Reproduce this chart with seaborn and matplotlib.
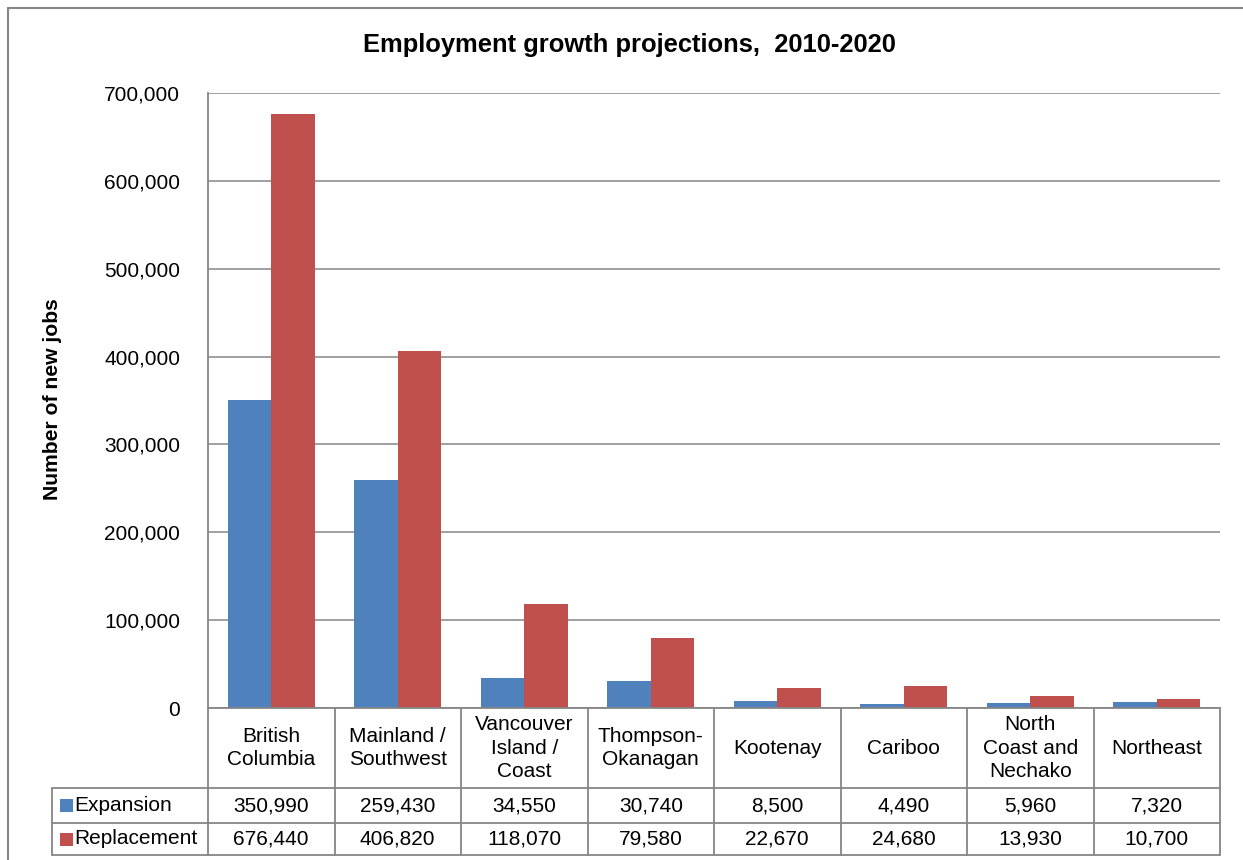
import matplotlib
matplotlib.use("Agg")
import numpy as np
import pandas as pd
import seaborn as sns
import matplotlib.pyplot as plt
import matplotlib.transforms as mtransforms
from matplotlib.lines import Line2D
from matplotlib.patches import Rectangle
from matplotlib.ticker import FuncFormatter

# ---- data -------------------------------------------------------------
regions = [
    "British\nColumbia",
    "Mainland /\nSouthwest",
    "Vancouver\nIsland /\nCoast",
    "Thompson-\nOkanagan",
    "Kootenay",
    "Cariboo",
    "North\nCoast and\nNechako",
    "Northeast",
]
expansion = [350990, 259430, 34550, 30740, 8500, 4490, 5960, 7320]
replacement = [676440, 406820, 118070, 79580, 22670, 24680, 13930, 10700]
series_names = ["Expansion", "Replacement"]
series_colors = ["#4F81BD", "#C0504D"]
y_ticks = [0, 100000, 200000, 300000, 400000, 500000, 600000, 700000]

title = "Employment growth projections,  2010-2020"
y_label = "Number of new jobs"

# ---- figure setup -----------------------------------------------------
W, H = 1243, 860
sns.set_theme(style="white")
plt.rcParams["font.family"] = ["Liberation Sans", "DejaVu Sans"]
GRID = "#868686"
FS = 15

fig = plt.figure(figsize=(W / 100, H / 100), dpi=100)


def fx(px):
    return px / W


def fy(py):
    return 1 - py / H


left, right, top, bottom = 208, 1220, 93, 708
ax = fig.add_axes([fx(left), fy(bottom), fx(right - left), fy(top) - fy(bottom)])

df = pd.DataFrame({
    "region": regions * 2,
    "series": [series_names[0]] * len(regions) + [series_names[1]] * len(regions),
    "jobs": expansion + replacement,
})

sns.barplot(
    data=df, x="region", y="jobs", hue="series",
    order=regions, hue_order=series_names, palette=series_colors,
    width=0.684, saturation=1, errorbar=None, legend=False,
    linewidth=0, ax=ax,
)

ax.set_xlim(-0.5, len(regions) - 0.5)
ax.set_ylim(y_ticks[0], y_ticks[-1])
ax.set_yticks(y_ticks)
ax.yaxis.set_major_formatter(FuncFormatter(lambda v, p: f"{int(v):,}"))
ax.tick_params(axis="y", length=0, pad=20, labelsize=FS, labelcolor="black")
ax.set_xticks([])
ax.set_xlabel("")
ax.set_ylabel("")
ax.yaxis.grid(True, color=GRID, linewidth=1.1)
ax.set_axisbelow(True)
for side in ("top", "right"):
    ax.spines[side].set_visible(False)
for side in ("left", "bottom"):
    ax.spines[side].set_color(GRID)
    ax.spines[side].set_linewidth(1.3)

# ---- titles -----------------------------------------------------------
fig.text(fx(629), fy(45), title, ha="center", va="center",
         fontsize=18.4, fontweight="bold", color="black")
fig.text(fx(53), fy((top + bottom) / 2 - 1), y_label, ha="center", va="center",
         rotation=90, fontsize=15.2, fontweight="bold", color="black")

# ---- data table under the plot ----------------------------------------
trans = mtransforms.blended_transform_factory(ax.transData, fig.transFigure)
row_header_mid = (708 + 788) / 2
row_mids = [(788 + 823) / 2, (823 + 855) / 2]
row_lines = [788, 823, 855]
legend_left = 52

for i, name in enumerate(regions):
    ax.text(i, fy(row_header_mid), name, transform=trans, ha="center",
            va="center", fontsize=FS, linespacing=1.3, color="black",
            clip_on=False)
    for r, values in enumerate((expansion, replacement)):
        ax.text(i, fy(row_mids[r]), f"{values[i]:,}", transform=trans,
                ha="center", va="center", fontsize=FS, color="black",
                clip_on=False)

# grid of the table
for k in range(len(regions) + 1):
    fig.add_artist(Line2D([k - 0.5, k - 0.5], [fy(708), fy(855)],
                          transform=trans, color=GRID, lw=1.3))
for yl in row_lines:
    fig.add_artist(Line2D([fx(legend_left), fx(right)], [fy(yl), fy(yl)],
                          color=GRID, lw=1.3))
fig.add_artist(Line2D([fx(legend_left), fx(legend_left)], [fy(788), fy(855)],
                      color=GRID, lw=1.3))

# legend keys inside the table
for r, (name, col) in enumerate(zip(series_names, series_colors)):
    ym = row_mids[r]
    fig.add_artist(Rectangle((fx(60), fy(ym + 6.5)), fx(13), fy(ym - 6.5) - fy(ym + 6.5),
                             transform=fig.transFigure, facecolor=col,
                             edgecolor="none"))
    fig.text(fx(74), fy(ym), name, ha="left", va="center", fontsize=FS,
             color="black")

# chart area frame
fig.add_artist(Line2D([fx(8), 1.0], [fy(8), fy(8)], color=GRID, lw=1.5))
fig.add_artist(Line2D([fx(8), fx(8)], [fy(8), 0.0], color=GRID, lw=1.5))

fig.savefig("out.png", dpi=100)
